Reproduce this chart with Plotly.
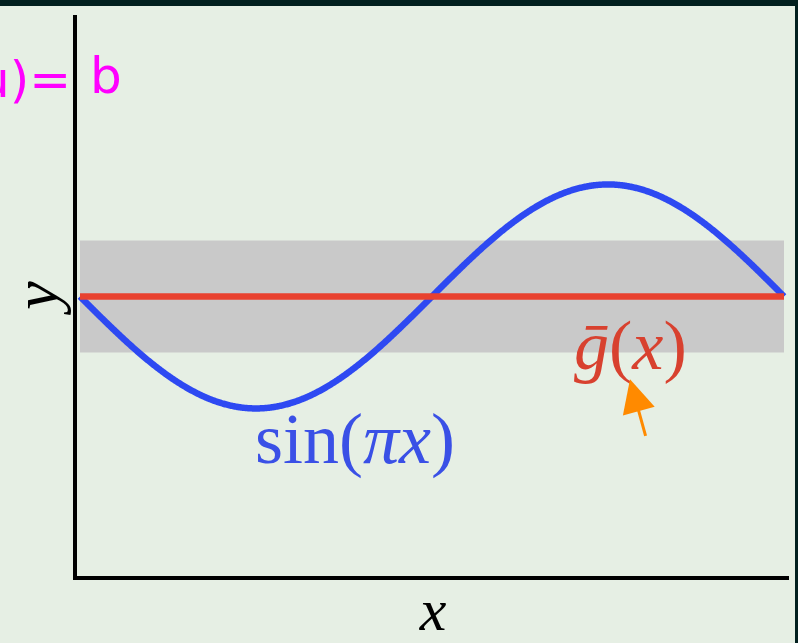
import numpy as np
import plotly.graph_objects as go

# Sample points along the domain [-1, 1] and the curves drawn over it
x_samples = np.linspace(-1.0, 1.0, 801)
gbar_x = [-1.0, 1.0]
gbar_y = [0.0, 0.0]
band_x = [-1.0, 1.0]
band_lower = [-0.5, -0.5]
band_upper = [0.5, 0.5]

sin_label = "sin(<i>πx</i>)"
gbar_label = "<i>ḡ</i>(<i>x</i>)"

W, H = 798, 643
L, R, T, B = 77, 9, 15, 67
PW, PH = W - L - R, H - T - B

BG = "#E6EFE4"
DARK = "#02201F"
BLUE = "#2E49F2"
RED = "#E8412F"
SERIF = "Liberation Serif"


def px_to_paper_x(px):
    return (px - L) / PW


def px_to_paper_y(py):
    return (H - B - py) / PH


fig = go.Figure()

# Grey variance band around the average hypothesis
fig.add_trace(go.Scatter(x=band_x, y=band_lower, mode="lines",
                         line=dict(width=0, color="#C9C9C9"), hoverinfo="skip"))
fig.add_trace(go.Scatter(x=band_x, y=band_upper, mode="lines", fill="tonexty",
                         fillcolor="#C9C9C9", line=dict(width=0, color="#C9C9C9"),
                         hoverinfo="skip"))

# Target function
fig.add_trace(go.Scatter(x=x_samples, y=np.sin(np.pi * x_samples), mode="lines",
                         line=dict(color=BLUE, width=6.5, simplify=False)))

# Average hypothesis
fig.add_trace(go.Scatter(x=gbar_x, y=gbar_y, mode="lines",
                         line=dict(color=RED, width=6.5)))

fig.add_annotation(x=-0.219, y=-1.27, text=sin_label, showarrow=False,
                   font=dict(family=SERIF, size=72, color="#3A50E6"),
                   xanchor="center", yanchor="middle")
fig.add_annotation(x=0.5625, y=-0.44, text=gbar_label, showarrow=False,
                   font=dict(family=SERIF, size=70, color="#D8412F"),
                   xanchor="center", yanchor="middle")

# Hand-drawn pointer under the average hypothesis label
fig.add_annotation(x=0.5625, y=-0.74, ax=16, ay=58, text="", showarrow=True,
                   arrowhead=2, arrowsize=2.2, arrowwidth=3, arrowcolor="#FF8A00")

# Handwritten note at the top left
fig.add_annotation(xref="paper", yref="paper", x=px_to_paper_x(73), y=px_to_paper_y(80),
                   text="u)=", showarrow=False, xanchor="right", yanchor="middle",
                   font=dict(family="DejaVu Sans", size=50, color="#FF00FF"))
fig.add_annotation(xref="paper", yref="paper", x=px_to_paper_x(88), y=px_to_paper_y(76),
                   text="b", showarrow=False, xanchor="left", yanchor="middle",
                   font=dict(family="DejaVu Sans", size=50, color="#FF00FF"))

# Dark frame along the top and right edges
fig.add_shape(type="rect", xref="paper", yref="paper", layer="above",
              x0=-0.2, x1=1.2, y0=px_to_paper_y(6), y1=1.2,
              fillcolor=DARK, line=dict(width=0))
fig.add_shape(type="rect", xref="paper", yref="paper", layer="above",
              x0=px_to_paper_x(795), x1=1.2, y0=-0.2, y1=1.2,
              fillcolor=DARK, line=dict(width=0))

fig.update_layout(
    width=W, height=H,
    margin=dict(l=L, r=R, t=T, b=B, pad=0),
    paper_bgcolor=BG, plot_bgcolor=BG,
    showlegend=False,
    xaxis=dict(range=[-1.00852, 1.0142], showgrid=False, zeroline=False,
               showticklabels=False, ticks="", showline=True, linecolor="black",
               linewidth=4, fixedrange=True,
               title=dict(text="<i>x</i>", standoff=17,
                          font=dict(family=SERIF, size=60, color="black"))),
    yaxis=dict(range=[-2.496, 2.513], showgrid=False, zeroline=False,
               showticklabels=False, ticks="", showline=True, linecolor="black",
               linewidth=4, fixedrange=True,
               title=dict(text="<i>y</i>", standoff=9,
                          font=dict(family=SERIF, size=64, color="black"))),
)

fig.write_html("out.html")
